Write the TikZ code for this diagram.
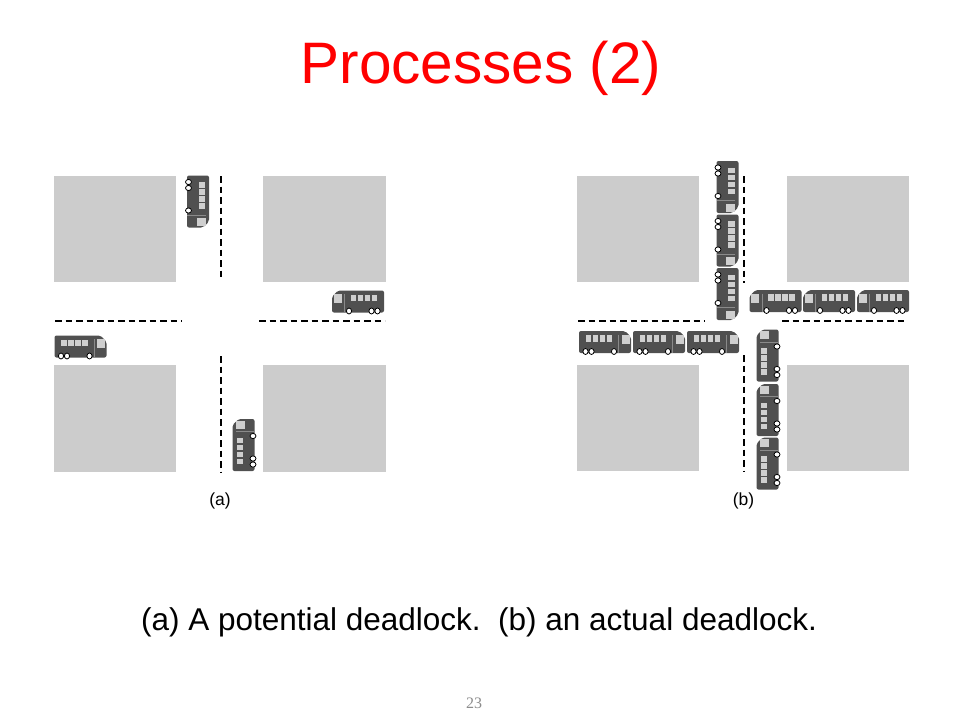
\documentclass[tikz,border=0pt]{standalone}
\usepackage{fontspec}
\setmainfont{Liberation Sans}
\newfontfamily\pagefont{Liberation Serif}
\definecolor{block}{HTML}{CCCCCC}
\definecolor{busdark}{HTML}{505050}
\definecolor{buslight}{HTML}{CFCFCF}
\definecolor{busmid}{HTML}{8A8A8A}
\definecolor{titlered}{HTML}{FF0000}
\definecolor{pagegray}{HTML}{8C8C8C}
\tikzset{
  blockfill/.style={fill=block},
  laneline/.style={draw=black, line width=1.8pt, dash pattern=on 6.5pt off 4pt},
  bus/.pic={
    \fill[busdark, rounded corners=2pt] (-26,11) -- (-26,-11) -- (20,-11) -- (26,-5) -- (26,11) -- cycle;
    \fill[buslight] (16.5,-7.5) rectangle (24.5,1.5);
    \draw[busmid, line width=1pt] (13.5,-7.5) -- (13.5,11);
    \foreach \cx in {-16.5,-9.5,-2.5,4.5}{
      \fill[buslight] (\cx-2.6,-7) rectangle (\cx+2.6,-0.5);
    }
    \foreach \wx in {-19.5,-13.5,9}{
      \filldraw[fill=white, draw=black, line width=0.8pt] (\wx,9.5) ellipse (2.6 and 3);
    }
  },
  sublabel/.style={font=\fontsize{17.5}{20}\selectfont},
}
\begin{document}
\begin{tikzpicture}[x=1pt,y=-1pt]
\useasboundingbox (0,0) rectangle (960,720);
\fill[white] (0,0) rectangle (960,720);

% title
\node[text=titlered, font=\fontsize{58.5}{63}\selectfont, anchor=base, inner sep=0pt] (title) at (481,83) {Processes (2)};

% ---------- panel (a) ----------
\fill[blockfill] (54,176) rectangle (176,282);
\fill[blockfill] (263,176) rectangle (386,282);
\fill[blockfill] (54,365) rectangle (176,472);
\fill[blockfill] (263,365) rectangle (386,472);
\draw[laneline] (221,176) -- (221,279);
\draw[laneline] (221,356) -- (221,472);
\draw[laneline] (55,321) -- (182,321);
\draw[laneline] (259,321) -- (385,321);
\pic[rotate=-90] at (198,201.5) {bus};
\pic[xscale=-1] at (358,301.5) {bus};
\pic at (80.5,346.5) {bus};
\pic[rotate=90] at (243.5,445) {bus};
\node[sublabel] (labela) at (220,501) {(a)};

% ---------- panel (b) ----------
\fill[blockfill] (577,176) rectangle (699,282);
\fill[blockfill] (787,176) rectangle (909,282);
\fill[blockfill] (577,365) rectangle (699,471);
\fill[blockfill] (787,365) rectangle (909,471);
\draw[laneline] (744,176) -- (744,283);
\draw[laneline] (744,355) -- (744,472);
\draw[laneline] (578,321) -- (705,321);
\draw[laneline] (782,321) -- (906,321);
\foreach \yy in {187,240.5,294}{\pic[rotate=-90] at (727.5,\yy) {bus};}
\foreach \xx in {775.5,829,883}{\pic[xscale=-1] at (\xx,301) {bus};}
\foreach \xx in {605,659,713}{\pic at (\xx,342) {bus};}
\foreach \yy in {355.5,410,463.5}{\pic[rotate=90] at (767.5,\yy) {bus};}
\node[sublabel] (labelb) at (743.5,501) {(b)};

% caption
\node[font=\fontsize{31.5}{36}\selectfont, anchor=base, inner sep=0pt] (caption) at (479,630) {(a) A potential deadlock.\ \ (b) an actual deadlock.};

% page number
\node[text=pagegray, font=\pagefont\fontsize{16}{18}\selectfont, anchor=base, inner sep=0pt] (pagenum) at (474,708) {23};
\end{tikzpicture}
\end{document}
